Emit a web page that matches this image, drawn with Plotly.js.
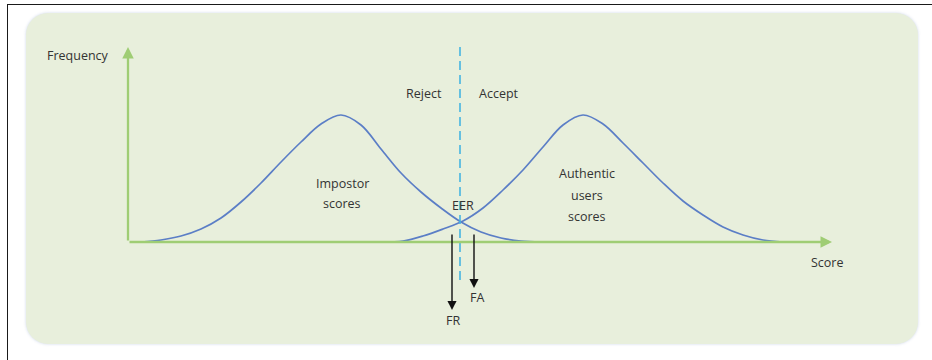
<!DOCTYPE html>
<html>
<head>
<meta charset="utf-8">
<script src="https://cdn.plot.ly/plotly-3.0.1.min.js"></script>
<style>
  html, body { margin: 0; padding: 0; background: #ffffff; }
  #wrap { position: relative; width: 932px; height: 360px; overflow: hidden; background: #ffffff; }
  #frameTop { position: absolute; left: 7px; top: 4px; width: 925px; height: 0; border-top: 1.5px solid #1a1a1a; }
  #frameLeft { position: absolute; left: 7px; top: 4px; width: 0; height: 356px; border-left: 1.5px solid #1a1a1a; }
  #panel { position: absolute; left: 26px; top: 13px; width: 892px; height: 331px; border-radius: 22px;
           background: #e8efdc; box-shadow: 0 0 3px rgba(200,210,230,0.9); }
  #chart { position: absolute; left: 0; top: 0; width: 932px; height: 360px; }
</style>
</head>
<body>
<div id="wrap">
  <div id="frameTop"></div>
  <div id="frameLeft"></div>
  <div id="panel"></div>
  <div id="chart"></div>
</div>
<script>
// Impostor score distribution
const scoreImpostor = [13, 33, 53, 73, 93, 113, 133, 153, 173, 193, 213, 233, 253, 273, 293, 313, 333, 353, 373, 393, 413];
const freqImpostor  = [0, 2, 6, 13, 24, 40, 59, 80, 100, 118, 127, 117, 93, 69, 50, 34, 20, 10, 4, 1, 0];

// Authentic users score distribution
const scoreAuthentic = [255, 275, 295, 315, 335, 355, 375, 395, 415, 435, 455, 475, 495, 515, 535, 555, 575, 595, 615, 635, 655];
const freqAuthentic  = [0, 1, 6, 13, 21, 34, 52, 72, 95, 117, 127, 118, 99, 79, 59, 41, 27, 15, 7, 2, 0];

// Threshold (EER point) and axis extents
const threshold = 332;
const axisMaxScore = 704;
const axisMaxFreq = 195;

const curveColor = '#5b7ec6';
const axisGreen = '#9fcd74';
const textColor = '#333333';
const fontFam = '"Open Sans", "Noto Sans", sans-serif';

const traces = [
  { x: scoreImpostor, y: freqImpostor, mode: 'lines', line: { color: curveColor, width: 1.7, shape: 'spline', smoothing: 1 }, hoverinfo: 'skip' },
  { x: scoreAuthentic, y: freqAuthentic, mode: 'lines', line: { color: curveColor, width: 1.7, shape: 'spline', smoothing: 1 }, hoverinfo: 'skip' }
];

function label(text, x, y, xref, yref) {
  return { text: text, x: x, y: y, xref: xref || 'x', yref: yref || 'y', showarrow: false,
           font: { family: fontFam, size: 12.5, color: textColor }, xanchor: 'center', yanchor: 'middle' };
}
function arrow(x, y, ax, ay, color, width, size) {
  return { text: '', x: x, y: y, ax: ax, ay: ay, xref: 'x', yref: 'y', axref: 'x', ayref: 'y',
           showarrow: true, arrowhead: 2, arrowsize: size, arrowwidth: width, arrowcolor: color, standoff: 0, startstandoff: 0 };
}

const layout = {
  width: 932, height: 360,
  margin: { l: 128, r: 100, t: 40, b: 30 },
  paper_bgcolor: 'rgba(0,0,0,0)',
  plot_bgcolor: 'rgba(0,0,0,0)',
  showlegend: false,
  xaxis: { range: [0, axisMaxScore], visible: false, fixedrange: true },
  yaxis: { range: [-88, 202], visible: false, fixedrange: true },
  shapes: [
    { type: 'line', xref: 'x', yref: 'y', x0: threshold, x1: threshold, y0: -38, y1: axisMaxFreq,
      line: { color: '#45b5e2', width: 1.6, dash: '9px,5px' } }
  ],
  annotations: [
    arrow(0, axisMaxFreq, 0, 0, axisGreen, 2.3, 1.0),
    arrow(axisMaxScore, 0, 0, 0, axisGreen, 2.3, 1.0),
    arrow(threshold - 8, -68, threshold - 8, 9, '#111111', 1.4, 1.3),
    arrow(threshold + 14, -46, threshold + 14, 9, '#111111', 1.4, 1.3),
    label('Frequency', -0.071, 0.948, 'paper', 'paper'),
    label('Score', 699, -20),
    label('Reject', 296, 149),
    label('Accept', 371, 149),
    label('Impostor', 214, 59),
    label('scores', 214, 39),
    label('Authentic', 459, 69),
    label('users', 459, 47),
    label('scores', 459, 26),
    label('EER', threshold + 3, 37),
    label('FA', threshold + 17, -55),
    label('FR', threshold - 7, -78)
  ]
};

Plotly.newPlot('chart', traces, layout, { displayModeBar: false, staticPlot: true });
</script>
</body>
</html>
